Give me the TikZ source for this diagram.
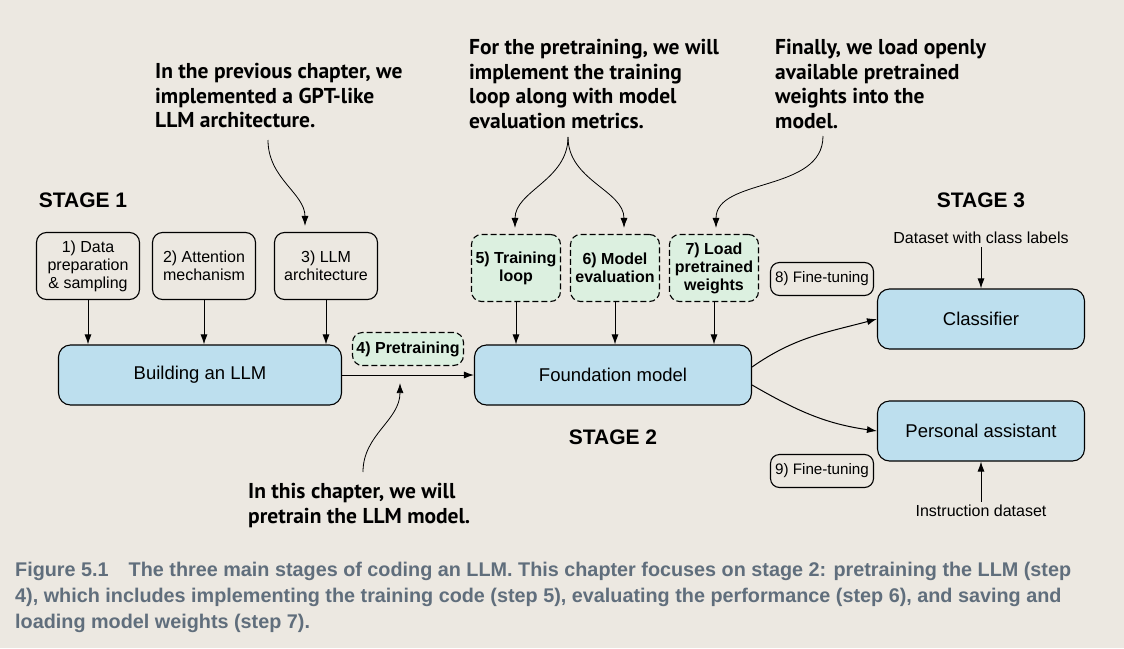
\documentclass[tikz,border=0pt]{standalone}
\usepackage{fontspec}
\setmainfont{Liberation Sans}
\newfontfamily\notefont{PT Sans}
\usepackage{tikz}
\usetikzlibrary{arrows.meta,positioning}

\definecolor{paper}{RGB}{236,232,225}
\definecolor{llmblue}{RGB}{189,223,238}
\definecolor{stepgreen}{RGB}{220,240,224}
\definecolor{capgrey}{RGB}{96,110,124}

\tikzset{
  stepbox/.style={draw, rounded corners=10pt, line width=1.1pt, fill=paper, align=center,
    minimum width=103pt, minimum height=67pt, inner sep=1pt, font=\fontsize{16}{18}\selectfont},
  newstep/.style={stepbox, fill=stepgreen, dash pattern=on 6pt off 3pt, minimum width=89pt,
    font=\bfseries\fontsize{16}{18}\selectfont},
  mainbox/.style={draw, rounded corners=12pt, line width=1.1pt, fill=llmblue,
    minimum height=60pt, font=\fontsize{18.5}{22}\selectfont},
  tuning/.style={draw, rounded corners=9pt, line width=1.1pt, minimum width=103pt,
    minimum height=33pt, inner sep=1pt, font=\fontsize{15.2}{17}\selectfont},
  stage/.style={font=\bfseries\fontsize{21}{24}\selectfont},
  datalabel/.style={font=\fontsize{16}{18}\selectfont},
  note/.style={anchor=north west, align=left, inner sep=0pt,
    font=\notefont\bfseries\fontsize{21.5}{24.6}\selectfont},
}

\begin{document}
\begin{tikzpicture}[x=1pt, y=-1pt, on grid, >={Latex[length=10pt,width=7pt]}]
   \fill[paper] (0,0) rectangle (1124,648);
   \useasboundingbox (0,0) rectangle (1124,648);

   % stage 1
   \node[mainbox, minimum width=283pt] (build) at (200,375) {Building an LLM};
   \node[stepbox] (b1) [above left=109pt and 112pt of build] {1) Data\\preparation\\\& sampling};
   \node[stepbox] (b2) [right=116pt of b1] {2) Attention\\mechanism};
   \node[stepbox] (b3) [right=122pt of b2] {3) LLM\\architecture};
   \node[stage] (stage1) [above left=66pt and 5pt of b1] {STAGE 1};

   % stage 2
   \node[mainbox, minimum width=277pt] (found) [right=413pt of build] {Foundation model};
   \node[newstep, minimum width=111pt, minimum height=33pt] (pretrain) [above right=26pt and 208pt of build] {4) Pretraining};
   \node[newstep] (b5) [above left=107pt and 97pt of found] {5) Training\\loop};
   \node[newstep] (b6) [right=99pt of b5] {6) Model\\evaluation};
   \node[newstep] (b7) [right=99pt of b6] {7) Load\\pretrained\\weights};
   \node[stage] (stage2) [below=62pt of found] {STAGE 2};

   % stage 3
   \node[mainbox, minimum width=207pt] (cls) [above right=56pt and 368pt of found] {Classifier};
   \node[mainbox, minimum width=207pt] (pa) [below=112pt of cls] {Personal assistant};
   \node[tuning] (ft8) [above left=40pt and 159pt of cls] {8) Fine-tuning};
   \node[tuning] (ft9) [below left=40pt and 159pt of pa] {9) Fine-tuning};
   \node[datalabel] (dsc) [above=81pt of cls] {Dataset with class labels};
   \node[datalabel] (ins) [below=80pt of pa] {Instruction dataset};
   \node[stage] (stage3) [above=38pt of dsc] {STAGE 3};

   % notes
   \node[note] (note1) at (155,63) {In the previous chapter, we\\implemented a GPT-like\\LLM architecture.};
   \node[note] (note2) at (469,39) {For the pretraining, we will\\implement the training\\loop along with model\\evaluation metrics.};
   \node[note] (note3) at (775,39) {Finally, we load openly\\available pretrained\\weights into the\\model.};
   \node[note] (note4) at (248,483) {In this chapter, we will\\pretrain the LLM model.};
   \coordinate (n1) at (268,140);
   \coordinate (n2) at (568,137);
   \coordinate (n3) at (823,136);
   \coordinate (n4) at (363,472);

   \node[anchor=north west, align=left, inner sep=0pt, text=capgrey,
     font=\bfseries\fontsize{19.8}{26}\selectfont] (caption) at (15,562)
     {Figure 5.1\hspace{20pt}The three main stages of coding an LLM. This chapter focuses on stage 2: pretraining the LLM (step\\
      4), which includes implementing the training code (step 5), evaluating the performance (step 6), and saving and\\
      loading model weights (step 7).};

    \path[->, line width=1pt]
    (b1) edge (b1 |- build.north)
    (b2) edge (b2 |- build.north)
    (b3) edge (b3 |- build.north)
    (build) edge (found)
    (b5) edge (b5 |- found.north)
    (b6) edge (b6 |- found.north)
    (b7) edge (b7 |- found.north)
    (dsc) edge (cls)
    (ins) edge (pa)
    ([yshift=8pt]found.east) edge [out=35, in=195] (cls.west)
    ([yshift=-10pt]found.east) edge [out=-30, in=172] (pa.west);

    \path[->, line width=0.8pt, shorten >=6pt]
    (n1) edge [out=-90, in=90] ([xshift=-21pt]b3.north)
    (n2) edge [out=-90, in=90] ([xshift=-1pt]b5.north)
         edge [out=-90, in=90] ([xshift=9pt]b6.north)
    (n3) edge [out=-90, in=90] ([xshift=2pt]b7.north)
    (n4) edge [out=90, in=-90, shorten >=0pt] ([xshift=-8pt,yshift=-17pt]pretrain.south);
\end{tikzpicture}
\end{document}
